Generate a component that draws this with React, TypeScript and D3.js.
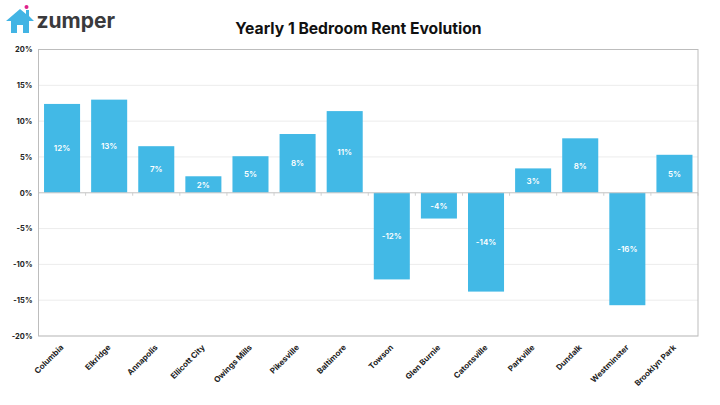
import * as d3 from 'd3';
import React from 'react';

const cities = ['Columbia', 'Elkridge', 'Annapolis', 'Ellicott City', 'Owings Mills', 'Pikesville', 'Baltimore', 'Towson', 'Glen Burnie', 'Catonsville', 'Parkville', 'Dundalk', 'Westminster', 'Brooklyn Park'];
const rentChange = [12.4, 13.0, 6.5, 2.3, 5.1, 8.2, 11.4, -12.1, -3.6, -13.8, 3.4, 7.6, -15.7, 5.3];
const barLabels = ['12%', '13%', '7%', '2%', '5%', '8%', '11%', '-12%', '-4%', '-14%', '3%', '8%', '-16%', '5%'];
const yTicks = [-20, -15, -10, -5, 0, 5, 10, 15, 20];

const FONT = 'Inter, sans-serif';

export default function App() {
  const svgRef = React.useRef<SVGSVGElement>(null);

  React.useEffect(() => {
    if (svgRef.current == null) {
      return;
    }
    const left = 38.5;
    const right = 698;
    const top = 49.5;
    const bottom = 336;

    const svg = d3.select(svgRef.current);
    svg.selectAll('*').remove();

    const xScale = d3.scaleBand<string>().domain(cities).range([left, right]).paddingInner(0.235).paddingOuter(0.1175);
    const yScale = d3.scaleLinear().domain([-20, 20]).range([bottom, top]);

    // gridlines
    svg
      .append('g')
      .selectAll('line')
      .data(yTicks)
      .join('line')
      .attr('x1', left)
      .attr('x2', right)
      .attr('y1', (d) => yScale(d))
      .attr('y2', (d) => yScale(d))
      .attr('stroke', '#ececec')
      .attr('stroke-width', 1);

    // y axis labels
    const yAxis = d3
      .axisLeft(yScale)
      .tickValues(yTicks)
      .tickSize(0)
      .tickPadding(6)
      .tickFormat((d) => `${d}%`);
    const yG = svg.append('g').attr('transform', `translate(${left}, 0)`).call(yAxis);
    yG.select('.domain').remove();
    yG.selectAll('text')
      .style('font-family', FONT)
      .style('font-size', '7.5px')
      .style('font-weight', 700)
      .attr('fill', '#222');

    // bars
    svg
      .append('g')
      .selectAll('rect')
      .data(rentChange)
      .join('rect')
      .attr('x', (_, i) => xScale(cities[i]) as number)
      .attr('width', xScale.bandwidth())
      .attr('y', (d) => yScale(Math.max(d, 0)))
      .attr('height', (d) => Math.abs(yScale(d) - yScale(0)))
      .attr('fill', '#42b9e6');

    // bar labels
    svg
      .append('g')
      .selectAll('text')
      .data(rentChange)
      .join('text')
      .attr('x', (_, i) => (xScale(cities[i]) as number) + xScale.bandwidth() / 2)
      .attr('y', (d) => (yScale(d) + yScale(0)) / 2 + 3)
      .attr('text-anchor', 'middle')
      .attr('fill', '#fff')
      .style('font-family', FONT)
      .style('font-size', '8px')
      .style('font-weight', 600)
      .text((_, i) => barLabels[i]);

    // zero line and band ticks
    const step = xScale.step();
    svg
      .append('g')
      .selectAll('line')
      .data(d3.range(cities.length + 1))
      .join('line')
      .attr('x1', (i) => left + i * step)
      .attr('x2', (i) => left + i * step)
      .attr('y1', yScale(0))
      .attr('y2', yScale(0) + 3)
      .attr('stroke', '#d0d0d0');
    svg
      .append('line')
      .attr('x1', left)
      .attr('x2', right)
      .attr('y1', yScale(0))
      .attr('y2', yScale(0))
      .attr('stroke', '#c8c8c8');

    // plot frame
    svg
      .append('rect')
      .attr('x', left)
      .attr('y', top)
      .attr('width', right - left)
      .attr('height', bottom - top)
      .attr('fill', 'none')
      .attr('stroke', '#bdbdbd');

    // x labels
    svg
      .append('g')
      .selectAll('text')
      .data(cities)
      .join('text')
      .attr('text-anchor', 'end')
      .attr('transform', (d) => `translate(${(xScale(d) as number) + xScale.bandwidth() / 2 + 2}, 348) rotate(-45)`)
      .attr('fill', '#222')
      .style('font-family', FONT)
      .style('font-size', '8px')
      .style('font-weight', 700)
      .text((d) => d);

    // title
    svg
      .append('text')
      .attr('x', 358.5)
      .attr('y', 34)
      .attr('text-anchor', 'middle')
      .attr('fill', '#111')
      .style('font-family', FONT)
      .style('font-size', '15.7px')
      .style('font-weight', 700)
      .text('Yearly 1 Bedroom Rent Evolution');

    // logo
    const logo = svg.append('g');
    logo
      .append('path')
      .attr('d', 'M6 21 L20 9 L26 14 L26 10 L29 10 L29 16 L34 21 L29 21 L29 33 L23 33 L23 25 L17 25 L17 33 L11 33 L11 21 Z')
      .attr('fill', '#42b4e4');
    logo.append('circle').attr('cx', 26.5).attr('cy', 7).attr('r', 2).attr('fill', '#e0218a');
    logo
      .append('text')
      .attr('x', 36.5)
      .attr('y', 28)
      .attr('fill', '#3a3a3c')
      .style('font-family', FONT)
      .style('font-size', '21px')
      .style('font-weight', 700)
      .text('zumper');
  }, []);

  return <svg ref={svgRef} width={720} height={405} style={{ position: 'absolute', left: 0, top: 0, background: '#fff' }}></svg>;
}
